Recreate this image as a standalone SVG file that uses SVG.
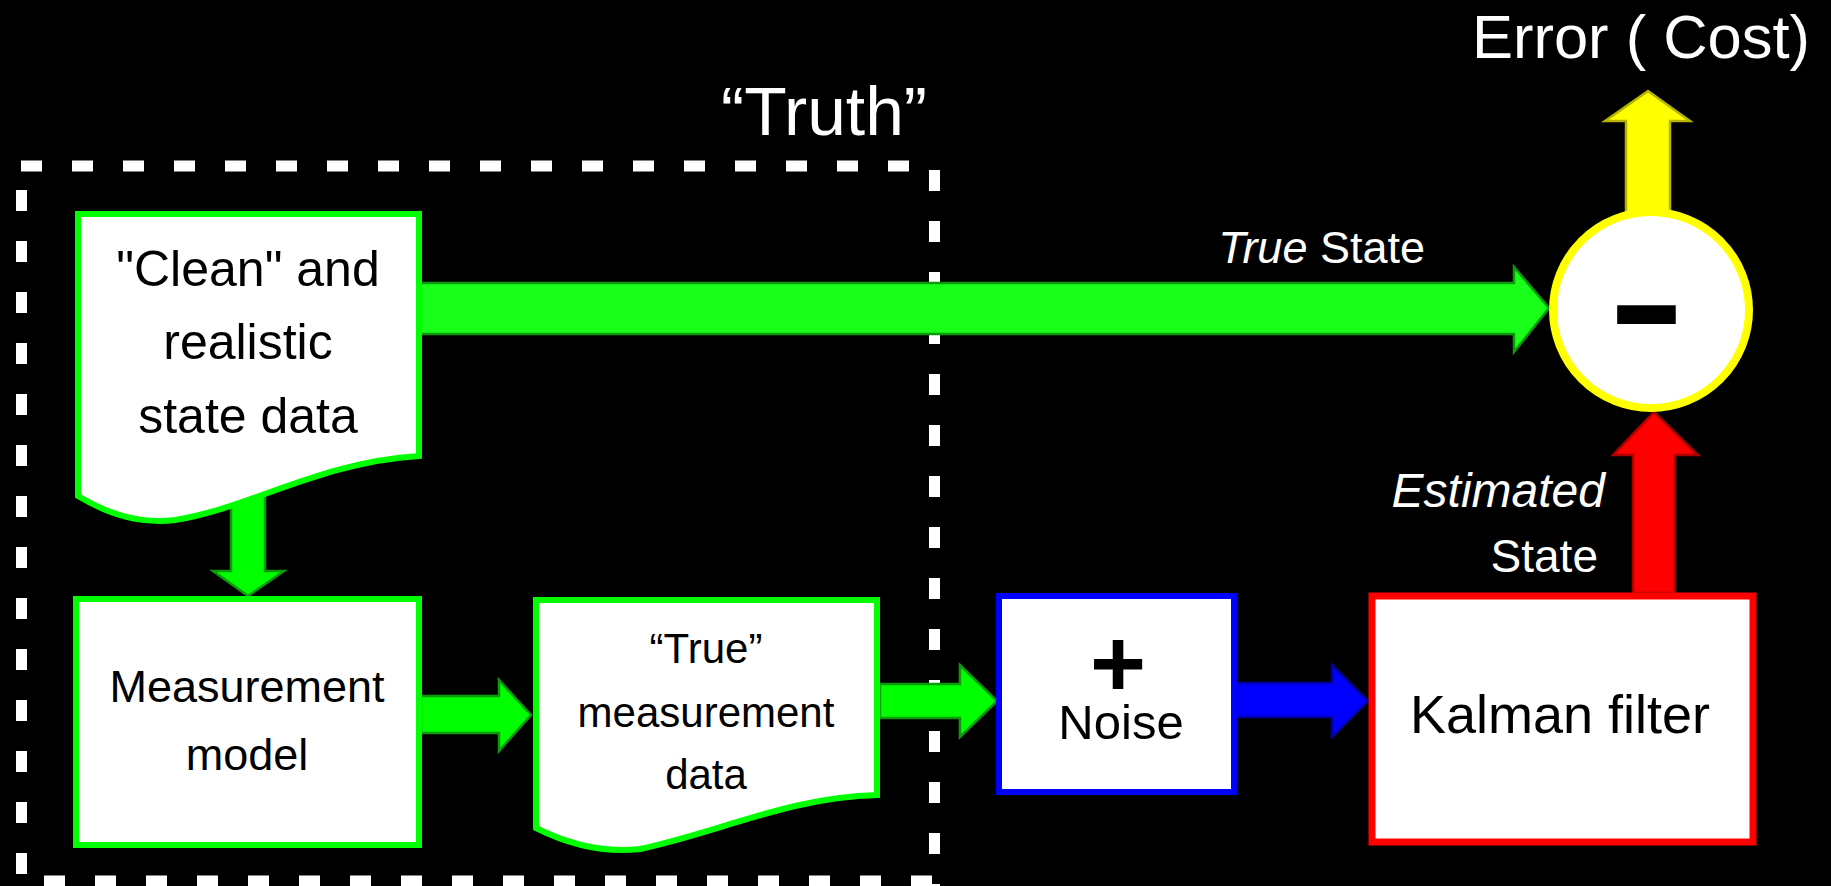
<svg xmlns="http://www.w3.org/2000/svg" width="1831" height="886" viewBox="0 0 1831 886">
<style>
.t{font-family:"Liberation Sans",Arial,sans-serif;}
.blk{fill:#000;}
.wht{fill:#fff;}
.box-g{fill:#fff;stroke:#00ff00;stroke-width:6;}
.dash{stroke:#fff;stroke-width:11;stroke-dasharray:21 30;fill:none;}
.ag{fill:#00ff00;stroke:#0a9a0a;stroke-width:2.5;stroke-linejoin:miter;}
.agl{fill:#1aff1a;stroke:#0a9a0a;stroke-width:2.5;}
.ab{fill:#0000ff;stroke:#0000a8;stroke-width:2.5;}
.ay{fill:#ffff00;stroke:#b4b400;stroke-width:2.5;}
.ar{fill:#ff0000;stroke:#aa0000;stroke-width:2.5;}
</style>
<rect x="0" y="0" width="1831" height="886" fill="#000"/>

<g id="truth-frame">
<line class="dash" x1="21" y1="166" x2="930" y2="166"/>
<line class="dash" x1="21.5" y1="190" x2="21.5" y2="886"/>
<line class="dash" x1="934.5" y1="170" x2="934.5" y2="886"/>
<line class="dash" x1="44" y1="881" x2="934" y2="881"/>
<text id="truth-label" class="t wht" x="721" y="135" font-size="68" textLength="206" lengthAdjust="spacingAndGlyphs">“Truth”</text>
</g>

<g id="connectors">
<polygon class="agl" points="410,283 1514,283 1514,267 1549,308 1514,352 1514,334 410,334"/>
<polygon class="ag" points="231,480 265,480 265,571 284,571 248,596 213,571 231,571"/>
<polygon class="ag" points="421,696 499,696 499,680 531,715 499,751 499,733 421,733"/>
<polygon class="ag" points="880,684 960,684 960,665 997,701 960,737 960,718 880,718"/>
<polygon class="ab" points="1237,683 1332,683 1332,665 1368,701 1332,737 1332,717 1237,717"/>
<polygon class="ar" points="1633,593 1633,455 1613,455 1654,412 1698,455 1675,455 1675,593"/>
<polygon class="ay" points="1626,215 1626,121 1605,121 1648,91 1690,121 1670,121 1670,215"/>
<text id="true-state-label" class="t wht" x="1425" y="263" font-size="45" text-anchor="end"><tspan font-style="italic">True</tspan> State</text>
<text id="est-label-1" class="t wht" x="1605" y="507" font-size="48" text-anchor="end" font-style="italic">Estimated</text>
<text id="est-label-2" class="t wht" x="1598" y="572" font-size="46" text-anchor="end">State</text>
<text id="error-label" class="t wht" x="1472" y="58" font-size="62" textLength="338" lengthAdjust="spacingAndGlyphs">Error ( Cost)</text>
</g>

<g id="clean-data">
<path class="box-g" d="M78,214 H419 V456 C320,462 250,508 175,520 C140,524 110,515 78,496 Z"/>
<text class="t blk" font-size="50" text-anchor="middle"><tspan x="248" y="286">"Clean" and</tspan><tspan x="248" y="359">realistic</tspan><tspan x="248" y="433">state data</tspan></text>
</g>

<g id="measurement-model">
<rect class="box-g" x="76" y="599" width="343" height="246"/>
<text class="t blk" font-size="45" text-anchor="middle"><tspan x="247" y="702">Measurement</tspan><tspan x="247" y="770">model</tspan></text>
</g>

<g id="true-measurement">
<path class="box-g" d="M536,600 H877 V795 C790,797 720,832 640,849 C605,853 570,845 536,828 Z"/>
<text class="t blk" font-size="42" text-anchor="middle"><tspan x="706" y="663">“True”</tspan><tspan x="706" y="727">measurement</tspan><tspan x="706" y="789">data</tspan></text>
</g>

<g id="noise">
<rect x="999" y="596" width="235" height="196" fill="#fff" stroke="#0000ff" stroke-width="6"/>
<text class="t blk" text-anchor="middle"><tspan x="1118" y="697" font-size="96" font-weight="bold">+</tspan><tspan x="1121" y="739" font-size="49">Noise</tspan></text>
</g>

<g id="kalman-filter">
<rect x="1372" y="596" width="381" height="246" fill="#fff" stroke="#ff0000" stroke-width="7"/>
<text class="t blk" x="1560" y="733" font-size="54" text-anchor="middle">Kalman filter</text>
</g>

<g id="difference">
<circle cx="1651" cy="310" r="98" fill="#fff" stroke="#ffff00" stroke-width="8"/>
<text class="t blk" x="1646.5" y="378" font-size="240" text-anchor="middle">-</text>
</g>
</svg>
